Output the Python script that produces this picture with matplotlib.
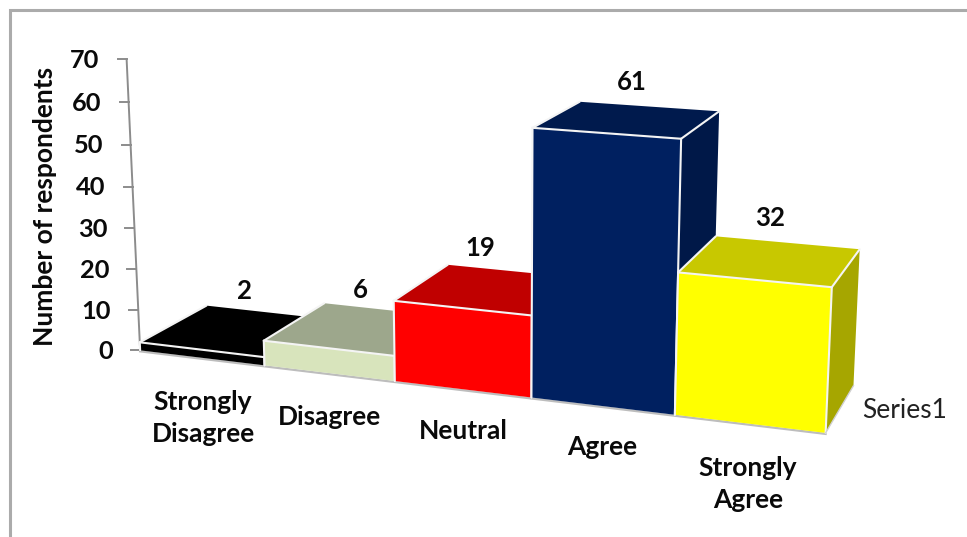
import numpy as np
import matplotlib
matplotlib.use("Agg")
import matplotlib.pyplot as plt
from matplotlib.patches import Polygon

# ---- data ----
categories = ["Strongly\nDisagree", "Disagree", "Neutral", "Agree", "Strongly\nAgree"]
values = [2, 6, 19, 61, 32]
y_ticks = [0, 10, 20, 30, 40, 50, 60, 70]
y_label = "Number of respondents"
series_name = "Series1"

# ---- style ----
front_colors = ["#000000", "#D8E4BC", "#FF0000", "#002060", "#FFFF00"]
top_colors = ["#000000", "#9DA78C", "#C00000", "#001A4D", "#C8C800"]
side_colors = ["#000000", "#8A9478", "#A00000", "#001848", "#A6A600"]

W, H = 967, 537
plt.rcParams["font.family"] = ["Lato", "DejaVu Sans"]
fig = plt.figure(figsize=(W / 100, H / 100), dpi=100)
ax = fig.add_axes([0, 0, 1, 1])
ax.set_xlim(0, W)
ax.set_ylim(H, 0)
ax.axis("off")

# ---- perspective camera: (slot edge, value, depth) -> picture position ----
camera_fit = [
    ((0, 0, 0), (141, 351)), ((5, 0, 0), (826, 433)), ((0, 70, 0), (127, 59)),
    ((5, 32, 0), (832, 288)), ((5, 0, 1), (854, 385)), ((5, 32, 1), (859, 250)),
    ((3, 61, 0), (533, 128)), ((4, 61, 0), (681, 139)), ((3, 0, 0), (532, 397)),
    ((4, 0, 0), (674, 414)), ((3, 61, 1), (580, 101)), ((4, 61, 1), (718, 111)),
    ((0, 2, 1), (207, 306)), ((2, 19, 1), (447, 265)), ((2, 0, 0), (395, 381)),
    ((1, 0, 0), (263, 365)), ((1, 6, 1), (324, 303)), ((4, 32, 1), (717, 237)),
    ((0, 30, 0), (134, 228.5)),
]
A, b = [], []
for (s, v, d), (px, py) in camera_fit:
    A.append([s, v, d, 1, 0, 0, 0, 0, -px * s, -px * v, -px * d])
    b.append(px)
    A.append([0, 0, 0, 0, s, v, d, 1, -py * s, -py * v, -py * d])
    b.append(py)
p = np.linalg.lstsq(np.array(A, float), np.array(b, float), rcond=None)[0]
P = np.append(p, 1.0).reshape(3, 4)


def proj(s, v, d=0):
    q = P @ np.array([s, v, d, 1.0])
    return q[0] / q[2], q[1] / q[2]


# ---- outer frame ----
ax.plot([9.5, 9.5, W], [H, 9.5, 9.5], color="#ABABAB", lw=2.2, solid_joinstyle="miter")

# ---- axis ----
axis_color = "#8C8C8C"
ax.plot(*zip(proj(0, 0), proj(0, 70)), color=axis_color, lw=1.4)
for t in y_ticks:
    x, y = proj(0, t)
    ax.plot([x - 9, x], [y, y], color=axis_color, lw=1.4)
    ax.text(x - 27, y + 1, str(t), ha="right", va="center",
            fontsize=18.3, fontweight="bold", color="#0A0A0A")
ax.text(45, 206, y_label, rotation=90, ha="center", va="center",
        fontsize=19, fontweight="bold", color="#0A0A0A")

# ---- floor shadow line ----
xa, ya = proj(0, 0)
xb, yb = proj(5, 0)
ax.plot([xa, xb], [ya + 1, yb + 1], color="#BDBDBD", lw=1.6, zorder=1)

# ---- bars, painted left to right ----
for i, v in enumerate(values):
    z = 2 + i
    side = [proj(i + 1, 0, 0), proj(i + 1, 0, 1), proj(i + 1, v, 1), proj(i + 1, v, 0)]
    top = [proj(i, v, 0), proj(i, v, 1), proj(i + 1, v, 1), proj(i + 1, v, 0)]
    front = [proj(i, 0, 0), proj(i + 1, 0, 0), proj(i + 1, v, 0), proj(i, v, 0)]
    ax.add_patch(Polygon(side, closed=True, facecolor=side_colors[i], edgecolor="none", zorder=z))
    ax.add_patch(Polygon(top, closed=True, facecolor=top_colors[i], edgecolor="none", zorder=z))
    ax.add_patch(Polygon(front, closed=True, facecolor=front_colors[i], edgecolor="none", zorder=z))
    # white highlight edges
    for a, c in [(front[0], front[3]), (front[3], front[2]), (front[2], front[1]),
                 (front[2], side[2]), (top[0], top[1])]:
        ax.plot(*zip(a, c), color="#F4F4F4", lw=1.5, zorder=z + 0.1, solid_capstyle="round")

# grey lower edge of last side face
ax.plot(*zip(proj(5, 0, 0), proj(5, 0, 1)), color="#D0D0D0", lw=1.0, zorder=9)

# ---- value labels ----
label_offsets = [(-20, -21), (-25, -20), (-32, -23), (-17, -24), (-17, -25)]
for i, v in enumerate(values):
    x, y = proj(i + 0.5, v, 1)
    dx, dy = label_offsets[i]
    ax.text(x + dx, y + dy, str(v), ha="center", va="center",
            fontsize=18.5, fontweight="bold", color="#0A0A0A", zorder=20)

# ---- category labels ----
cat_centers = [(203, 418), (330, 417), (463, 431), (602, 447), (748, 484)]
for name, (cx, cy) in zip(categories, cat_centers):
    ax.text(cx, cy, name, ha="center", va="center", fontsize=19, fontweight="bold",
            color="#0A0A0A", linespacing=1.4, zorder=20)

ax.text(905, 411, series_name, ha="center", va="center", fontsize=19, color="#222222")

fig.savefig("out.png", dpi=100)
